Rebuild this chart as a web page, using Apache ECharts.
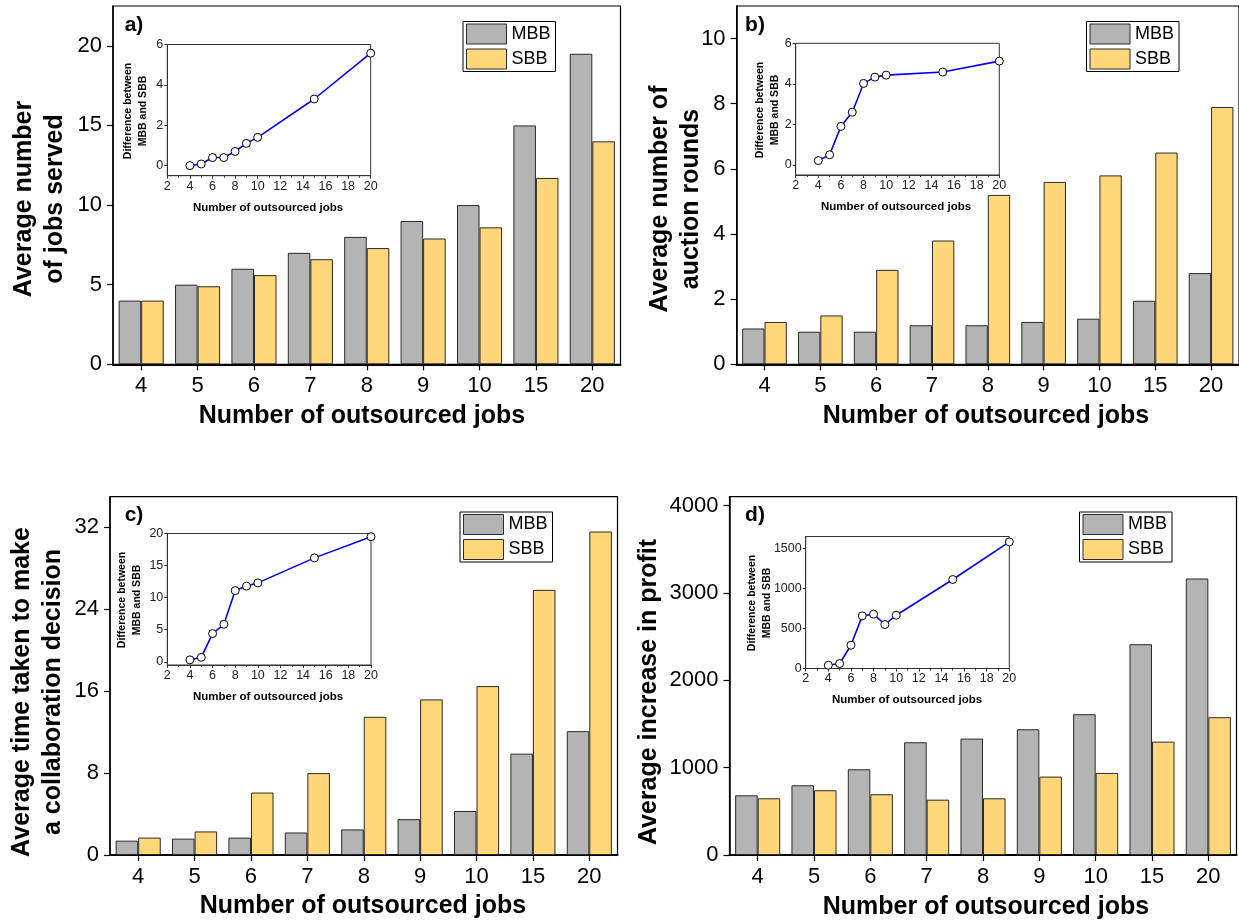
<!DOCTYPE html>
<html>
<head>
<meta charset="utf-8">
<script src="https://cdn.jsdelivr.net/npm/echarts@6/dist/echarts.min.js"></script>
<style>
  html, body { margin: 0; padding: 0; background: #fff; }
  #chart { width: 1239px; height: 921px; }
</style>
</head>
<body>
<div id="chart"></div>
<script>
// Number of outsourced jobs (categories of the bar panels, x values of the insets)
const categories = ['4', '5', '6', '7', '8', '9', '10', '15', '20'];
const jobsX = [4, 5, 6, 7, 8, 9, 10, 15, 20];

// a) Average number of jobs served
const mbbJobs = [4, 5, 6, 7, 8, 9, 10, 15, 19.5];
const sbbJobs = [4, 4.9, 5.6, 6.6, 7.3, 7.9, 8.6, 11.7, 14.0];
const diffJobs = [0, 0.08, 0.4, 0.4, 0.7, 1.1, 1.4, 3.3, 5.57];

// b) Average number of auction rounds
const mbbRounds = [1.1, 1.0, 1.0, 1.2, 1.2, 1.3, 1.4, 1.95, 2.8];
const sbbRounds = [1.3, 1.5, 2.9, 3.8, 5.2, 5.6, 5.8, 6.5, 7.9];
const diffRounds = [0.21, 0.5, 1.9, 2.6, 4.02, 4.33, 4.43, 4.58, 5.12];

// c) Average time taken to make a collaboration decision
const mbbTime = [1.4, 1.6, 1.7, 2.2, 2.5, 3.5, 4.3, 9.9, 12.1];
const sbbTime = [1.7, 2.3, 6.1, 8.0, 13.5, 15.2, 16.5, 25.9, 31.6];
const diffTime = [0.3, 0.7, 4.4, 5.85, 11.1, 11.8, 12.3, 16.2, 19.5];

// d) Average increase in profit
const mbbProfit = [683, 798, 981, 1290, 1332, 1439, 1611, 2412, 3164];
const sbbProfit = [649, 741, 695, 633, 649, 897, 939, 1297, 1577];
const diffProfit = [41, 62, 291, 658, 679, 550, 666, 1112, 1583];

// Tick labels
const ticksJobs = [0, 5, 10, 15, 20];
const ticksRounds = [0, 2, 4, 6, 8, 10];
const ticksTime = [0, 8, 16, 24, 32];
const ticksProfit = [0, 1000, 2000, 3000, 4000];
const insetTicksJobs = [0, 2, 4, 6];
const insetTicksRounds = [0, 2, 4, 6];
const insetTicksTime = [0, 5, 10, 15, 20];
const insetTicksProfit = [0, 500, 1000, 1500];

const FONT = '"Liberation Sans", Arial, Helvetica, sans-serif';
const GRAY = '#b4b4b4';
const YELLOW = '#ffd77a';
const EDGE = '#2a2a2a';
const plain = v => String(v);

const chart = echarts.init(document.getElementById('chart'), null, { renderer: 'canvas' });

// Panel layout: main bar plots and their insets
const panels = [
  { key: 'a', grid: { left: 113, top: 6, width: 507.5, height: 358.3 }, yMax: 22.5, ticks: ticksJobs,
    mbb: mbbJobs, sbb: sbbJobs, diff: diffJobs,
    inset: { left: 167.3, top: 44.5, width: 203.4, height: 131.2 }, iMin: -0.5, iMax: 6, iTicks: insetTicksJobs,
    legend: { left: 463, top: 21.5 } },
  { key: 'b', grid: { left: 736.6, top: 6, width: 507.5, height: 358.3 }, yMax: 11, ticks: ticksRounds,
    mbb: mbbRounds, sbb: sbbRounds, diff: diffRounds,
    inset: { left: 795.7, top: 43.3, width: 203.6, height: 131.7 }, iMin: -0.5, iMax: 6, iTicks: insetTicksRounds,
    legend: { left: 1086.5, top: 21.5 } },
  { key: 'c', grid: { left: 110, top: 496.7, width: 507.5, height: 358.3 }, yMax: 35, ticks: ticksTime,
    mbb: mbbTime, sbb: sbbTime, diff: diffTime,
    inset: { left: 167.3, top: 533.5, width: 203.7, height: 131.5 }, iMin: -0.5, iMax: 20, iTicks: insetTicksTime,
    legend: { left: 460, top: 512 } },
  { key: 'd', grid: { left: 729.5, top: 496.7, width: 507, height: 358.3 }, yMax: 4100, ticks: ticksProfit,
    mbb: mbbProfit, sbb: sbbProfit, diff: diffProfit,
    inset: { left: 805.7, top: 536.5, width: 203.6, height: 132 }, iMin: 0, iMax: 1650, iTicks: insetTicksProfit,
    legend: { left: 1079.5, top: 512 } }
];

const grids = [], xAxes = [], yAxes = [], series = [], legends = [];

panels.forEach((p, i) => {
  // main bar plot
  grids.push(Object.assign({ show: true, borderColor: '#000', borderWidth: 1.2, backgroundColor: 'transparent' }, p.grid));
  const gi = grids.length - 1;
  xAxes.push({
    type: 'category', gridIndex: gi, data: categories,
    axisLine: { show: true, lineStyle: { color: '#000', width: 2 } },
    axisTick: { show: true, alignWithLabel: true, length: 6, lineStyle: { color: '#000', width: 1.2 } },
    axisLabel: { fontFamily: FONT, fontSize: 22, color: '#000', margin: 11 },
    splitLine: { show: false }
  });
  yAxes.push({
    type: 'value', gridIndex: gi, min: 0, max: p.yMax,
    axisLine: { show: true, lineStyle: { color: '#000', width: 1.5 } },
    axisTick: { show: true, length: 6, customValues: p.ticks, lineStyle: { color: '#000', width: 1.2 } },
    axisLabel: { fontFamily: FONT, fontSize: 22, color: '#000', margin: 11, customValues: p.ticks, formatter: plain },
    splitLine: { show: false }
  });
  const barCommon = {
    type: 'bar', xAxisIndex: gi, yAxisIndex: gi,
    barCategoryGap: '20%', barGap: '0%', z: 2, animation: false
  };
  series.push(Object.assign({ name: 'MBB', data: p.mbb,
    itemStyle: { color: GRAY, borderColor: EDGE, borderWidth: 1 } }, barCommon));
  series.push(Object.assign({ name: 'SBB', data: p.sbb,
    itemStyle: { color: YELLOW, borderColor: EDGE, borderWidth: 1 } }, barCommon));

  legends.push({
    left: p.legend.left, top: p.legend.top, orient: 'vertical',
    data: ['MBB', 'SBB'], icon: 'rect', itemWidth: 40, itemHeight: 20, itemGap: 4,
    padding: [2, 5, 2, 3], borderColor: '#000', borderWidth: 1, backgroundColor: '#fff',
    selectedMode: false,
    itemStyle: { borderWidth: 1, borderColor: EDGE },
    textStyle: { fontFamily: FONT, fontSize: 18, color: '#000', padding: [0, 0, 0, 0] }
  });

  // inset: difference between MBB and SBB
  grids.push(Object.assign({ show: true, borderColor: '#333', borderWidth: 1, backgroundColor: '#fff', z: 5 }, p.inset));
  const ii = grids.length - 1;
  xAxes.push({
    type: 'value', gridIndex: ii, min: 2, max: 20, interval: 2, z: 6,
    axisLine: { show: true, onZero: false, lineStyle: { color: '#333', width: 1 } },
    axisTick: { show: true, length: 3, lineStyle: { color: '#333' } },
    minorTick: { show: true, splitNumber: 2, length: 2, lineStyle: { color: '#333' } },
    axisLabel: { fontFamily: FONT, fontSize: 12.5, color: '#222', margin: 4, formatter: plain },
    splitLine: { show: false }
  });
  yAxes.push({
    type: 'value', gridIndex: ii, min: p.iMin, max: p.iMax, z: 6,
    axisLine: { show: true, lineStyle: { color: '#333', width: 1 } },
    axisTick: { show: true, length: 3, customValues: p.iTicks, lineStyle: { color: '#333' } },
    axisLabel: { fontFamily: FONT, fontSize: 12.5, color: '#222', margin: 4, customValues: p.iTicks, formatter: plain },
    splitLine: { show: false }
  });
  series.push({
    type: 'line', xAxisIndex: ii, yAxisIndex: ii, z: 10,
    data: jobsX.map((x, k) => [x, p.diff[k]]),
    lineStyle: { color: '#0000ff', width: 1.6 },
    symbol: 'circle', symbolSize: 8,
    itemStyle: { color: '#fff', borderColor: '#000', borderWidth: 1 },
    clip: false, animation: false
  });
});

// Titles and panel tags
function txt(text, x, y, size, opts) {
  opts = opts || {};
  return {
    type: 'text', x: x, y: y, rotation: opts.rot || 0, z: 100,
    style: {
      text: text, fontFamily: FONT, fontSize: size, fontWeight: opts.weight || 'bold',
      fill: '#000', align: 'center', verticalAlign: 'middle', lineHeight: opts.lh || size * 1.2
    }
  };
}
const R = Math.PI / 2;
const graphics = [
  txt('a)', 134, 25, 21), txt('b)', 755, 25, 21), txt('c)', 134, 515, 21), txt('d)', 755, 515, 21),
  // main axis titles
  txt('Number of outsourced jobs', 362, 416, 25), txt('Number of outsourced jobs', 986, 416, 25),
  txt('Number of outsourced jobs', 363, 906, 25), txt('Number of outsourced jobs', 986, 907, 25),
  txt('Average number\nof jobs served', 40, 199, 25, { rot: R, lh: 31 }),
  txt('Average number of\nauction rounds', 676, 199, 25, { rot: R, lh: 31 }),
  txt('Average time taken to make\na collaboration decision', 38, 692, 25, { rot: R, lh: 31 }),
  txt('Average increase in profit', 649, 692, 25, { rot: R }),
  // inset axis titles
  txt('Number of outsourced jobs', 268, 208, 11.5), txt('Number of outsourced jobs', 896, 207, 11.5),
  txt('Number of outsourced jobs', 268, 697, 11.5), txt('Number of outsourced jobs', 907, 700, 11.5),
  txt('Difference between\nMBB and SBB', 136, 111, 10.5, { rot: R, lh: 15 }),
  txt('Difference between\nMBB and SBB', 768, 110, 10.5, { rot: R, lh: 15 }),
  txt('Difference between\nMBB and SBB', 130, 600, 10.5, { rot: R, lh: 15 }),
  txt('Difference between\nMBB and SBB', 760, 603, 10.5, { rot: R, lh: 15 })
];

chart.setOption({
  animation: false,
  backgroundColor: '#fff',
  grid: grids,
  xAxis: xAxes,
  yAxis: yAxes,
  legend: legends,
  series: series,
  graphic: graphics
});
</script>
</body>
</html>
